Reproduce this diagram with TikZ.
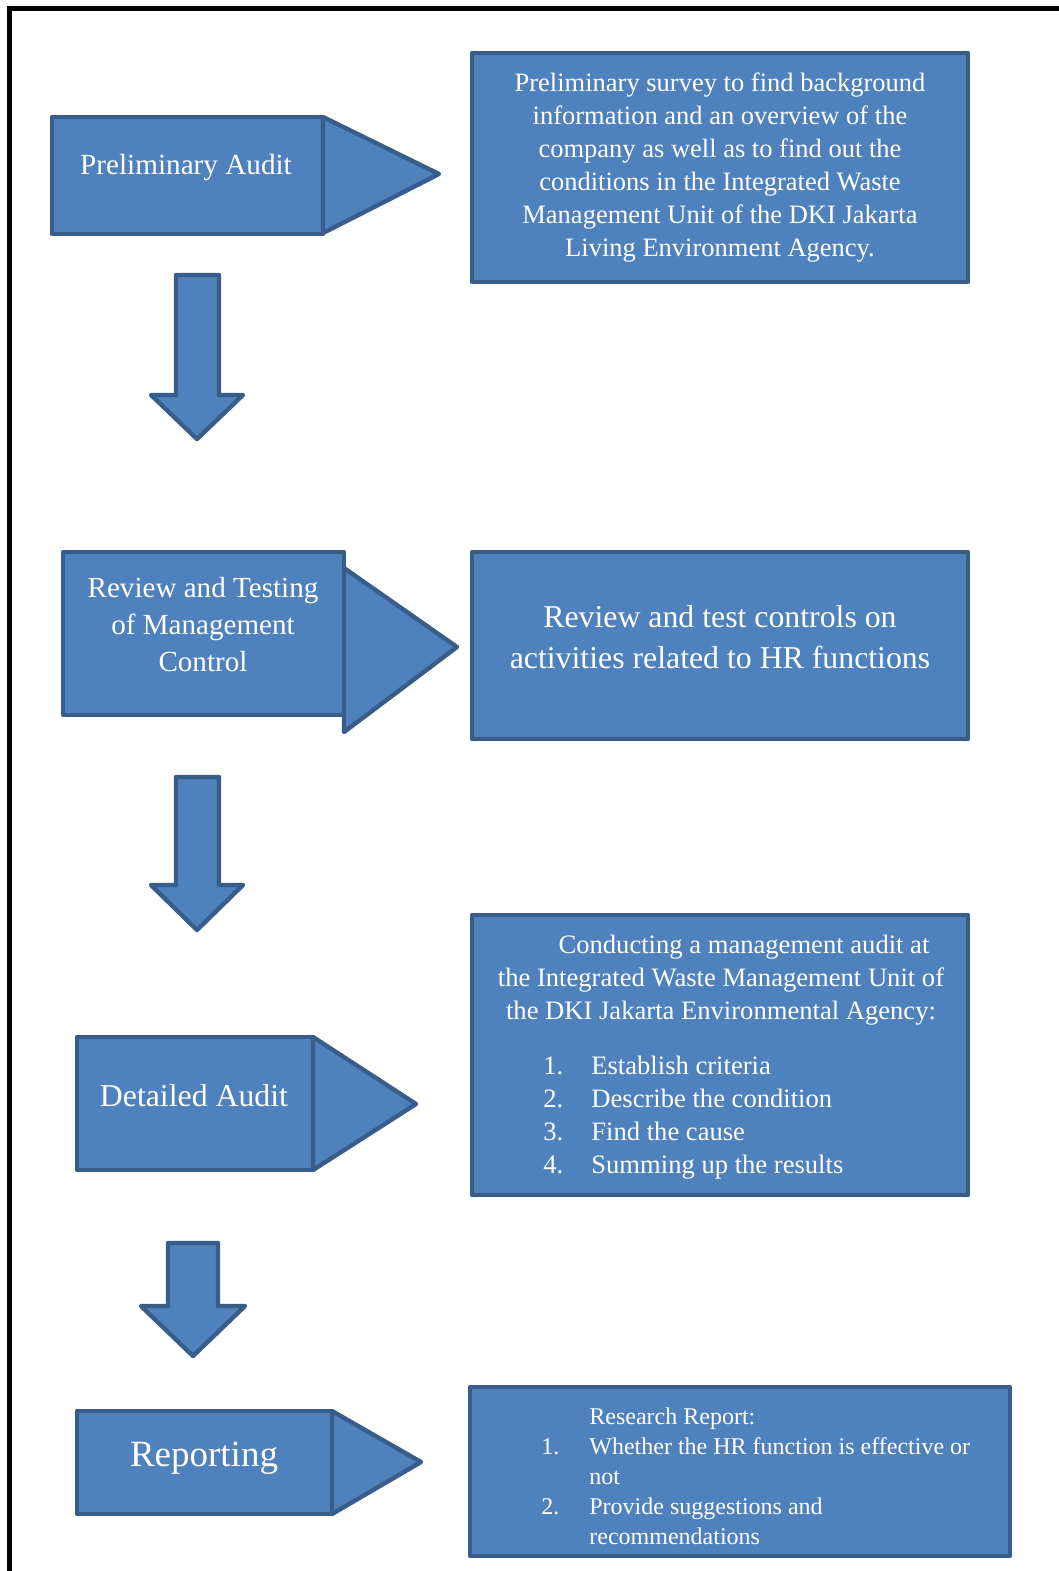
\documentclass[tikz,border=0pt]{standalone}
\usepackage{fontspec}
\setmainfont{Liberation Serif}
\definecolor{blockfill}{HTML}{4F81BD}
\definecolor{blockline}{HTML}{385D8A}

\begin{document}
\begin{tikzpicture}[x=0.5pt,y=-0.5pt,
  blockshape/.style={draw=blockline,fill=blockfill,line width=2.2pt,line join=round},
  blocktext/.style={text=white,inner sep=0pt,align=center}]

\useasboundingbox (0,0) rectangle (1059,1571);

% Frame
\draw[line width=2.6pt]
(9.5,1571)
--
(9.5,8.5)
--
(1059,8.5);

% Preliminary audit
\draw[blockshape]
(52,117)
rectangle
(323,234);

\draw[blockshape]
(323,117)
--
(439,174)
--
(323,233)
--
cycle;

\node[blocktext,font=\fontsize{14.6}{18}\selectfont] (prelim) at (186,168)
{Preliminary Audit};

\draw[blockshape]
(472,53)
rectangle
(968,282);

\node[blocktext,font=\fontsize{13.25}{16.5}\selectfont] (prelimtext) at (720,168)
{Preliminary survey to find background\\
information and an overview of the\\
company as well as to find out the\\
conditions in the Integrated Waste\\
Management Unit of the DKI Jakarta\\
Living Environment Agency.};

\draw[blockshape]
(176,275)
--
(219,275)
--
(219,395)
--
(243,395)
--
(197,439)
--
(151,395)
--
(176,395)
--
cycle;

% Review and testing
\draw[blockshape]
(63,552)
rectangle
(344,715);

\draw[blockshape]
(344,568)
--
(457,647)
--
(344,732)
--
cycle;

\node[blocktext,font=\fontsize{14.55}{18.5}\selectfont] (review) at (203,624.5)
{Review and Testing\\
of Management\\
Control};

\draw[blockshape]
(472,552)
rectangle
(968,739);

\node[blocktext,font=\fontsize{15.9}{20.5}\selectfont] (reviewtext) at (720,637)
{Review and test controls on\\
activities related to HR functions};

\draw[blockshape]
(176,777)
--
(219,777)
--
(219,885)
--
(243,885)
--
(197,930)
--
(151,885)
--
(176,885)
--
cycle;

% Detailed audit
\draw[blockshape]
(77,1037)
rectangle
(313,1170);

\draw[blockshape]
(313,1037)
--
(416,1104)
--
(313,1170)
--
cycle;

\node[blocktext,font=\fontsize{15.9}{20}\selectfont] (detailed) at (194,1095.5)
{Detailed Audit};

\draw[blockshape]
(472,915)
rectangle
(968,1195);

\node[blocktext,font=\fontsize{13.3}{16.5}\selectfont] (detailedtext) at (721,980.5)
{\hspace*{23pt}Conducting a management audit at\\
the Integrated Waste Management Unit of\\
the DKI Jakarta Environmental Agency:};

\node[blocktext,align=left,anchor=west,font=\fontsize{13.3}{16.5}\selectfont] (detailedlist) at (543,1118)
{\makebox[24pt][l]{1.}Establish criteria\\
\makebox[24pt][l]{2.}Describe the condition\\
\makebox[24pt][l]{3.}Find the cause\\
\makebox[24pt][l]{4.}Summing up the results};

\draw[blockshape]
(168,1243)
--
(218,1243)
--
(218,1306)
--
(245,1306)
--
(193,1356)
--
(141,1306)
--
(168,1306)
--
cycle;

% Reporting
\draw[blockshape]
(77,1411)
rectangle
(332,1514);

\draw[blockshape]
(332,1411)
--
(421,1462)
--
(332,1514)
--
cycle;

\node[blocktext,font=\fontsize{18.5}{22}\selectfont] (reporting) at (204,1458)
{Reporting};

\draw[blockshape]
(470,1387)
rectangle
(1010,1556);

\node[blocktext,align=left,anchor=west,font=\fontsize{12}{15}\selectfont] (reportingtext) at (541,1476)
{\hspace*{24pt}Research Report:\\
\makebox[24pt][l]{1.}Whether the HR function is effective or\\
\hspace*{24pt}not\\
\makebox[24pt][l]{2.}Provide suggestions and\\
\hspace*{24pt}recommendations};

\end{tikzpicture}
\end{document}
